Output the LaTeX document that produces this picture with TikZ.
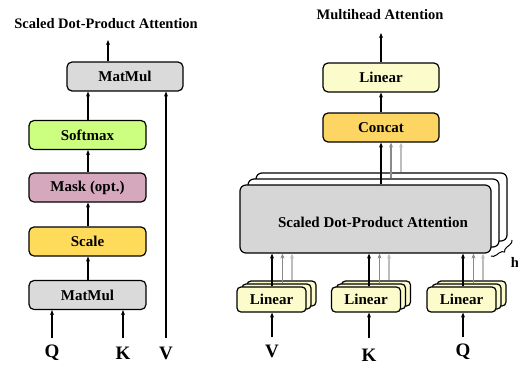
\documentclass[tikz,border=0pt]{standalone}
\usepackage{fontspec}
\setmainfont{Liberation Serif}
\usetikzlibrary{arrows.meta,decorations.pathreplacing}
\definecolor{mmgray}{HTML}{DADADA}
\definecolor{sdgray}{HTML}{D6D6D6}
\definecolor{softgreen}{HTML}{CCFF80}
\definecolor{maskpink}{HTML}{D5A8BE}
\definecolor{scaleyel}{HTML}{FFDB5C}
\definecolor{linyel}{HTML}{FBFBCB}
\definecolor{concatyel}{HTML}{FCD562}
\definecolor{midgray}{HTML}{8A8A8A}
\definecolor{lightgray}{HTML}{BDBDBD}
\tikzset{
  blk/.style={draw=black, line width=1.2pt, rounded corners=5pt, font=\fontsize{15}{17}\selectfont\bfseries,
    minimum width=117pt, minimum height=29pt, inner sep=0pt},
  linbox/.style={blk, fill=linyel, minimum width=69pt, minimum height=25pt, rounded corners=4pt},
  sdbox/.style={draw=black, line width=1.2pt, rounded corners=6pt, fill=white},
  inlab/.style={font=\fontsize{19}{21}\selectfont\bfseries, inner sep=0pt},
  ttl/.style={font=\fontsize{14.5}{16}\selectfont\bfseries, inner sep=0pt},
  conn/.style={line width=1.2pt, -{Stealth[length=5pt,width=4pt]}},
  connmid/.style={conn, draw=midgray},
  connlight/.style={conn, draw=lightgray},
}
\begin{document}
\begin{tikzpicture}[x=1pt,y=-1pt]
\useasboundingbox (0,0) rectangle (518,364);

% ---------- Scaled dot-product attention ----------
\node[ttl] (tl) at (106,24) {Scaled Dot-Product Attention};
\node[blk, fill=mmgray, minimum width=116pt] (mm2) at (125,76.5) {MatMul};
\node[blk, fill=softgreen] (soft) at (87.5,135) {Softmax};
\node[blk, fill=maskpink] (mask) at (87.5,187.5) {Mask (opt.)};
\node[blk, fill=scaleyel] (scale) at (87.5,241.5) {Scale};
\node[blk, fill=mmgray] (mm1) at (87.5,295) {MatMul};

\coordinate (outL) at (108,40);
\draw[conn] (outL |- mm2.north) -- (outL);
\draw[conn] (soft.north -| 88,0) -- (mm2.south -| 88,0);
\draw[conn] (mask.north -| 88,0) -- (soft.south -| 88,0);
\draw[conn] (scale.north -| 88,0) -- (mask.south -| 88,0);
\draw[conn] (mm1.north -| 88,0) -- (scale.south -| 88,0);

\node[inlab] (qL) at (52,353) {Q};
\node[inlab] (kL) at (123,353) {K};
\node[inlab] (vL) at (166,353) {V};
\coordinate (qLs) at (52,338);
\coordinate (kLs) at (123,338);
\coordinate (vLs) at (166,338);
\draw[conn] (qLs) -- (qLs |- mm1.south);
\draw[conn] (kLs) -- (kLs |- mm1.south);
\draw[conn] (vLs) -- (vLs |- mm2.south);

% ---------- Multi-head attention ----------
\node[ttl] (tr) at (380,15) {Multihead Attention};
\node[blk, fill=linyel, minimum width=116pt] (lin) at (381,77.5) {Linear};
\node[blk, fill=concatyel, minimum width=116pt] (cat) at (381,127.5) {Concat};

% stacked attention heads
\node[sdbox, minimum width=251pt, minimum height=68pt] (sd3) at (381.5,207) {};
\node[sdbox, minimum width=251pt, minimum height=68pt] (sd2) at (373.5,213) {};
\node[sdbox, fill=sdgray, minimum width=251pt, minimum height=68pt] (sd) at (365.5,219) {};
\node[ttl, font=\fontsize{15}{17}\selectfont\bfseries] (sdt) at (373,222) {Scaled Dot-Product Attention};

\coordinate (outR) at (381,33);
\draw[conn] (lin.north) -- (outR);
\draw[conn] (cat.north) -- (lin.south);
\draw[conn] (cat.south |- sd.north) -- (cat.south);
\draw[connmid] ([xshift=10pt]cat.south |- sd2.north) -- ([xshift=10pt]cat.south);
\draw[connlight] ([xshift=20pt]cat.south |- sd3.north) -- ([xshift=20pt]cat.south);

% brace marking the h heads
\draw[line width=1pt, decorate, decoration={brace, amplitude=5pt}]
  (512,240) -- (491,256);
\node[ttl] (hl) at (515,262) {h};

% linear projections (three stacked copies each)
\foreach \nm/\cx in {v/271.5, k/366, q/461.5}{
  \node[linbox] (\nm3) at (\cx+10,293.5) {};
  \node[linbox] (\nm2) at (\cx+5,296.5) {};
  \node[linbox] (\nm1) at (\cx,299.5) {Linear};
}
\foreach \nm/\dx in {v/0.5, k/3, q/1.5}{
  \draw[conn] ([xshift=\dx pt]\nm1.north) -- ([xshift=\dx pt]\nm1.north |- sd.south);
  \draw[connmid] ([xshift=\dx pt+10.5pt]\nm1.north |- \nm2.north) -- ([xshift=\dx pt+10.5pt]\nm1.north |- sd.south);
  \draw[connlight] ([xshift=\dx pt+20pt]\nm1.north |- \nm3.north) -- ([xshift=\dx pt+20pt]\nm1.north |- sd.south);
}

\node[inlab] (vR) at (272,351) {V};
\node[inlab] (kR) at (369,355) {K};
\node[inlab] (qR) at (463,352) {Q};
\coordinate (vRs) at (272,337);
\coordinate (kRs) at (369,338);
\coordinate (qRs) at (463,337);
\draw[conn] (vRs) -- (vRs |- v1.south);
\draw[conn] (kRs) -- (kRs |- k1.south);
\draw[conn] (qRs) -- (qRs |- q1.south);
\end{tikzpicture}
\end{document}
